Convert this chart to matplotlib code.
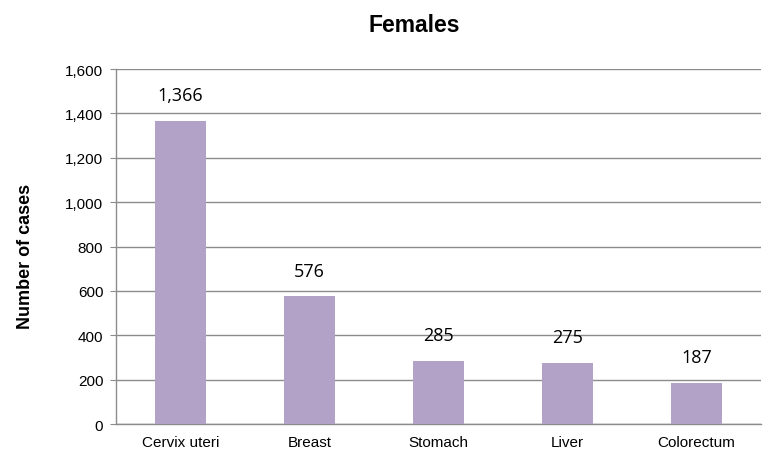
import matplotlib
matplotlib.use("Agg")
import matplotlib.pyplot as plt

categories = ["Cervix uteri", "Breast", "Stomach", "Liver", "Colorectum"]
values = [1366, 576, 285, 275, 187]
yticks = [0, 200, 400, 600, 800, 1000, 1200, 1400, 1600]

fig = plt.figure(figsize=(7.72, 4.52), dpi=100)
ax = fig.add_axes([0.150, 0.0597, 0.836, 0.7853])

x = range(len(categories))
ax.bar(x, values, width=0.40, color="#B2A2C7", zorder=3)
ax.set_xlim(-0.5, len(categories) - 0.5)
ax.set_ylim(0, 1600)
ax.set_yticks(yticks)
ax.set_yticklabels([f"{v:,}" for v in yticks], fontsize=11, family="Liberation Sans")
ax.set_xticks(list(x))
ax.set_xticklabels(categories, fontsize=11, family="Liberation Sans")
ax.grid(axis="y", color="#8C8C8C", linewidth=1, zorder=0)
for s in ["top", "right"]:
    ax.spines[s].set_visible(False)
for s in ["left", "bottom"]:
    ax.spines[s].set_color("#8C8C8C")
    ax.spines[s].set_linewidth(1)
ax.tick_params(axis="y", length=4, color="#8C8C8C", pad=5)
ax.tick_params(axis="x", length=0, pad=8)

for xi, v in zip(x, values):
    ax.annotate(f"{v:,}", (xi, v), xytext=(0, 12), textcoords="offset points",
                ha="center", va="bottom", fontsize=13, family="Open Sans", zorder=5)

fig.text(414 / 772, 1 - 32 / 452, "Females", ha="center", va="baseline", fontsize=16.5,
         fontweight="bold", family="Liberation Sans")
fig.text(26 / 772, 1 - 256 / 452, "Number of cases", rotation=90, ha="center", va="center",
         fontsize=13, fontweight="bold", family="Liberation Sans")

fig.savefig("out.png", dpi=100)
